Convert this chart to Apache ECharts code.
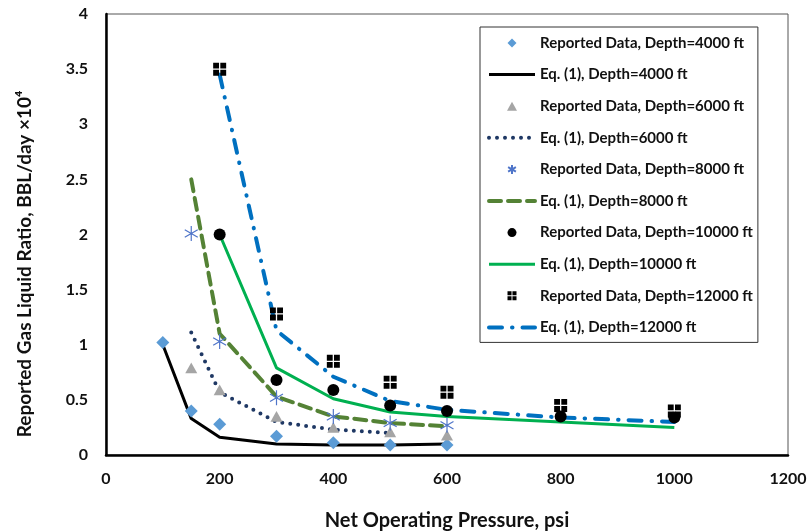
<!DOCTYPE html>
<html>
<head>
<meta charset="utf-8">
<script src="https://cdn.jsdelivr.net/npm/echarts@6/dist/echarts.min.js"></script>
<style>
html,body{margin:0;padding:0;background:#fff;}
#chart{width:808px;height:531px;}
</style>
</head>
<body>
<div id="chart"></div>
<script>
// Reported data (x = Net Operating Pressure psi, y = GLR x10^4)
var rep4000X = [100, 150, 200, 300, 400, 500, 600];
var rep4000Y = [1.02, 0.40, 0.28, 0.17, 0.11, 0.09, 0.09];
var eq4000X = [100, 150, 200, 300, 400, 500, 600];
var eq4000Y = [1.00, 0.33, 0.16, 0.10, 0.09, 0.09, 0.10];

var rep6000X = [150, 200, 300, 400, 500, 600];
var rep6000Y = [0.79, 0.59, 0.35, 0.25, 0.21, 0.18];
var eq6000X = [150, 200, 300, 400, 500];
var eq6000Y = [1.11, 0.57, 0.30, 0.23, 0.20];

var rep8000X = [150, 200, 300, 400, 500, 600];
var rep8000Y = [2.01, 1.03, 0.52, 0.35, 0.29, 0.27];
var eq8000X = [150, 200, 300, 400, 500, 600];
var eq8000Y = [2.50, 1.10, 0.53, 0.35, 0.29, 0.26];

var rep10000X = [200, 300, 400, 500, 600, 800, 1000];
var rep10000Y = [2.00, 0.68, 0.59, 0.45, 0.40, 0.35, 0.34];
var eq10000X = [200, 300, 400, 500, 600, 800, 1000];
var eq10000Y = [2.00, 0.79, 0.51, 0.39, 0.35, 0.30, 0.25];

var rep12000X = [200, 300, 400, 500, 600, 800, 1000];
var rep12000Y = [3.50, 1.28, 0.85, 0.66, 0.57, 0.45, 0.40];
var eq12000X = [200, 300, 400, 500, 600, 800, 1000];
var eq12000Y = [3.45, 1.13, 0.71, 0.49, 0.41, 0.34, 0.30];

var seriesNames = [
  'Reported Data, Depth=4000 ft', 'Eq. (1), Depth=4000 ft',
  'Reported Data, Depth=6000 ft', 'Eq. (1), Depth=6000 ft',
  'Reported Data, Depth=8000 ft', 'Eq. (1), Depth=8000 ft',
  'Reported Data, Depth=10000 ft', 'Eq. (1), Depth=10000 ft',
  'Reported Data, Depth=12000 ft', 'Eq. (1), Depth=12000 ft'
];

var xTitle = 'Net Operating Pressure, psi';
var yTitle = 'Reported Gas Liquid Ratio, BBL/day \u00d710\u2074';

var xTicks = {min: 0, max: 1200, interval: 200};
var yTicks = {min: 0, max: 4, interval: 0.5};

function pairs(xs, ys) { return xs.map(function (x, i) { return [x, ys[i]]; }); }

var FONT = 'Lato';
var diamond = 'path://M5,0 L10,5 L5,10 L0,5 Z';
var triangle = 'path://M5,0 L10,9 L0,9 Z';
var asterisk = 'path://M10,0 L10,20 M1.34,5 L18.66,15 M1.34,15 L18.66,5';
var quadSquare = 'path://M0,0 h9 v9 h-9 z M11,0 h9 v9 h-9 z M0,11 h9 v9 h-9 z M11,11 h9 v9 h-9 z';

function scatter(name, xs, ys, symbol, size, style) {
  style.opacity = 1;
  return {name: name, type: 'scatter', data: pairs(xs, ys), symbol: symbol, symbolSize: size,
    symbolKeepAspect: true, itemStyle: style, z: 3};
}
var lineStyles = {};
function line(name, xs, ys, color, width, type, cap) {
  lineStyles[name] = {color: color, width: width, type: type, cap: cap || 'butt', opacity: 1};
  return {name: name, type: 'line', data: pairs(xs, ys), showSymbol: false, symbol: 'none',
    lineStyle: {color: color, width: width, type: type, cap: cap || 'butt'}, itemStyle: {color: color}, z: 2};
}

var series = [
  scatter(seriesNames[0], rep4000X, rep4000Y, diamond, 13, {color: '#5b9bd5'}),
  line(seriesNames[1], eq4000X, eq4000Y, '#000', 3, 'solid'),
  scatter(seriesNames[2], rep6000X, rep6000Y, triangle, 12, {color: '#a5a5a5'}),
  line(seriesNames[3], eq6000X, eq6000Y, '#1f3864', 4, [0, 8], 'round'),
  scatter(seriesNames[4], rep8000X, rep8000Y, asterisk, 15, {color: 'rgba(0,0,0,0)', borderColor: '#4f75c9', borderWidth: 1.2}),
  line(seriesNames[5], eq8000X, eq8000Y, '#548235', 4, [12, 7], 'round'),
  scatter(seriesNames[6], rep10000X, rep10000Y, 'circle', 12, {color: '#000'}),
  line(seriesNames[7], eq10000X, eq10000Y, '#00b050', 3, 'solid'),
  scatter(seriesNames[8], rep12000X, rep12000Y, quadSquare, 13, {color: '#000'}),
  line(seriesNames[9], eq12000X, eq12000Y, '#0070c0', 4, [13, 10, 0.5, 10], 'round')
];

var legendData = seriesNames.map(function (n, i) {
  if (i % 2 === 1) {
    return {name: n, lineStyle: lineStyles[n],
      itemStyle: {color: 'rgba(0,0,0,0)', borderColor: 'rgba(0,0,0,0)', borderWidth: 0, opacity: 0}};
  }
  return {name: n};
});

var option = {
  backgroundColor: '#fff',
  animation: false,
  grid: {left: 106, right: 20, top: 14, bottom: 76, show: true, borderColor: '#555', borderWidth: 1,
    containLabel: false, outerBoundsMode: 'none'},
  legend: {
    orient: 'vertical', left: 480, top: 27,
    itemWidth: 46, itemHeight: 9, itemGap: 15.6,
    symbolKeepAspect: true,
    padding: [8, 5, 7, 7],
    borderColor: '#333', borderWidth: 1, backgroundColor: '#fff',
    textStyle: {fontFamily: FONT, fontWeight: 'bold', fontSize: 15, lineHeight: 16, color: '#111'},
    data: legendData
  },
  graphic: [{
    type: 'text', x: 25, y: 264, rotation: Math.PI / 2,
    style: {text: yTitle, font: 'bold 19px Lato', fill: '#111',
      align: 'center', verticalAlign: 'middle'}
  }],
  xAxis: {
    type: 'value', min: xTicks.min, max: xTicks.max, interval: xTicks.interval,
    name: xTitle, nameLocation: 'middle', nameGap: 56,
    nameTextStyle: {fontFamily: FONT, fontWeight: 'bold', fontSize: 20, color: '#111'},
    axisLine: {show: true, onZero: false, lineStyle: {color: '#000', width: 2.5}},
    axisTick: {show: false},
    axisLabel: {fontFamily: FONT, fontWeight: 'bold', fontSize: 16, color: '#111', margin: 16,
      formatter: function (v) { return String(v); }},
    splitLine: {show: false}
  },
  yAxis: {
    type: 'value', min: yTicks.min, max: yTicks.max, interval: yTicks.interval,
    axisLine: {show: true, onZero: false, lineStyle: {color: '#000', width: 2.5}},
    axisTick: {show: false},
    axisLabel: {fontFamily: FONT, fontWeight: 'bold', fontSize: 16, color: '#111', margin: 18,
      formatter: function (v) { return String(v); }},
    splitLine: {show: false}
  },
  series: series
};

var chart = echarts.init(document.getElementById('chart'), null, {renderer: 'canvas'});
chart.setOption(option);
</script>
</body>
</html>
